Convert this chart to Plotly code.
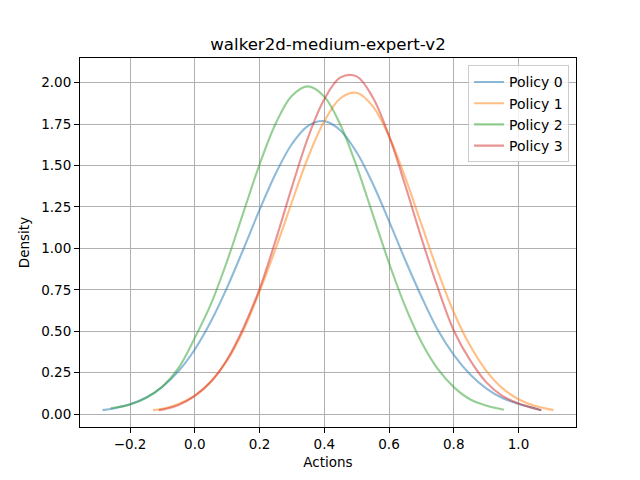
import plotly.graph_objects as go

# ---- data ----
x_policy0 = [-0.285, -0.25, -0.2, -0.15, -0.1, -0.05, 0.0, 0.05, 0.1, 0.15, 0.2, 0.25, 0.3, 0.35, 0.4,
             0.45, 0.5, 0.55, 0.6, 0.65, 0.7, 0.75, 0.8, 0.85, 0.9, 0.95, 1.0, 1.071]
y_policy0 = [0.024, 0.034, 0.059, 0.100, 0.165, 0.260, 0.390, 0.560, 0.765, 0.995, 1.232, 1.452, 1.630, 1.740, 1.768,
             1.712, 1.580, 1.390, 1.165, 0.930, 0.710, 0.510, 0.357, 0.240, 0.155, 0.097, 0.062, 0.024]

x_policy1 = [-0.129, -0.1, -0.05, 0.0, 0.05, 0.1, 0.15, 0.2, 0.25, 0.3, 0.35, 0.4, 0.45, 0.5,
             0.55, 0.6, 0.65, 0.7, 0.75, 0.8, 0.85, 0.9, 0.95, 1.0, 1.05, 1.108]
y_policy1 = [0.024, 0.032, 0.062, 0.112, 0.198, 0.324, 0.505, 0.740, 1.000, 1.280, 1.550, 1.767, 1.906, 1.939,
             1.857, 1.677, 1.428, 1.146, 0.866, 0.615, 0.415, 0.263, 0.157, 0.090, 0.050, 0.024]

x_policy2 = [-0.26, -0.2, -0.15, -0.1, -0.05, 0.0, 0.05, 0.1, 0.15, 0.2, 0.25, 0.3, 0.35, 0.4, 0.45,
             0.5, 0.55, 0.6, 0.65, 0.7, 0.75, 0.8, 0.85, 0.9, 0.955]
y_policy2 = [0.035, 0.058, 0.098, 0.166, 0.279, 0.460, 0.665, 0.925, 1.216, 1.506, 1.754, 1.921, 1.978, 1.916, 1.745,
             1.495, 1.204, 0.912, 0.650, 0.435, 0.274, 0.163, 0.090, 0.052, 0.026]

x_policy3 = [-0.111, -0.1, -0.05, 0.0, 0.05, 0.1, 0.15, 0.2, 0.25, 0.3, 0.35, 0.4, 0.45, 0.5,
             0.55, 0.6, 0.65, 0.7, 0.75, 0.8, 0.85, 0.9, 0.95, 1.0, 1.05, 1.07]
y_policy3 = [0.024, 0.027, 0.055, 0.110, 0.195, 0.330, 0.520, 0.755, 1.050, 1.370, 1.670, 1.900, 2.032, 2.038,
             1.911, 1.679, 1.381, 1.063, 0.766, 0.505, 0.327, 0.193, 0.110, 0.064, 0.034, 0.024]

series_names = ["Policy 0", "Policy 1", "Policy 2", "Policy 3"]
series_x = [x_policy0, x_policy1, x_policy2, x_policy3]
series_y = [y_policy0, y_policy1, y_policy2, y_policy3]
colors = ["rgba(31,119,180,0.5)", "rgba(255,127,14,0.5)", "rgba(44,160,44,0.5)", "rgba(214,39,40,0.5)"]

x_ticks = [-0.2, 0.0, 0.2, 0.4, 0.6, 0.8, 1.0]
x_tick_labels = ["\u22120.2", "0.0", "0.2", "0.4", "0.6", "0.8", "1.0"]
y_ticks = [0.0, 0.25, 0.5, 0.75, 1.0, 1.25, 1.5, 1.75, 2.0]
y_tick_labels = ["0.00", "0.25", "0.50", "0.75", "1.00", "1.25", "1.50", "1.75", "2.00"]

fig = go.Figure()
for name, xs, ys, c in zip(series_names, series_x, series_y, colors):
    fig.add_trace(go.Scatter(x=xs, y=ys, mode="lines", name=name,
                             line=dict(color=c, width=2.1, shape="spline", smoothing=1.0)))

font_family = "DejaVu Sans"
fig.update_layout(
    width=640, height=480,
    margin=dict(l=80, r=64, t=57.6, b=52.8, pad=0),
    paper_bgcolor="white", plot_bgcolor="white",
    font=dict(family=font_family, size=14, color="black"),
    title=dict(text="walker2d-medium-expert-v2", x=0.5, xref="paper", xanchor="center",
               y=1 - 44 / 480, yanchor="middle", font=dict(size=16.6, family=font_family, color="black")),
    showlegend=True,
    legend=dict(x=0.986, y=0.98, xanchor="right", yanchor="top",
                bgcolor="rgba(255,255,255,0.8)", bordercolor="#cccccc", borderwidth=1,
                font=dict(size=14, family=font_family), tracegroupgap=0, itemwidth=30),
)
fig.update_xaxes(range=[-0.3546, 1.1776], tickvals=x_ticks, ticktext=x_tick_labels,
                 showgrid=True, gridcolor="#b0b0b0", gridwidth=0.8, zeroline=False,
                 showline=True, linecolor="black", linewidth=1, mirror=True,
                 ticks="outside", ticklen=5, tickwidth=1, tickcolor="black",
                 tickfont=dict(size=13.5), title=dict(text="Actions", font=dict(size=13.5), standoff=6))
fig.update_yaxes(range=[-0.0777, 2.149], tickvals=y_ticks, ticktext=y_tick_labels,
                 showgrid=True, gridcolor="#b0b0b0", gridwidth=0.8, zeroline=False,
                 showline=True, linecolor="black", linewidth=1, mirror=True,
                 ticks="outside", ticklen=5, tickwidth=1, tickcolor="black",
                 tickfont=dict(size=13.5), title=dict(text="Density", font=dict(size=13.5), standoff=8))

fig.write_html("out.html", config={"displayModeBar": False},
               post_script="document.body.style.margin='0';")
